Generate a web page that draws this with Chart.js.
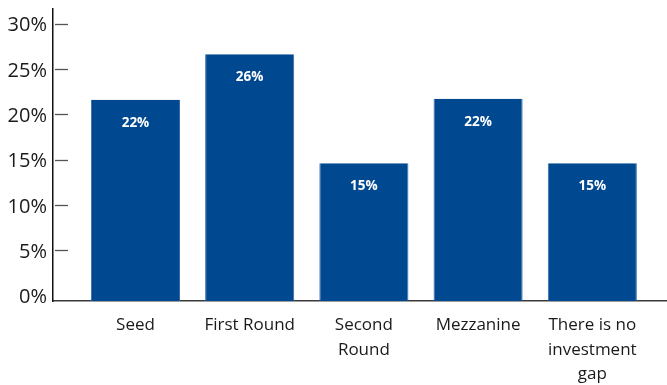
<!DOCTYPE html>
<html>
<head>
<meta charset="utf-8">
<script src="https://cdn.jsdelivr.net/npm/chart.js@4.4.1/dist/chart.umd.min.js"></script>
<style>
  html, body { margin: 0; padding: 0; background: #ffffff; }
  #wrap { width: 667px; height: 385px; position: relative; }
</style>
</head>
<body>
<div id="wrap"><canvas id="c"></canvas></div>
<script>
// ---- data ----
const categories = ["Seed", "First Round", ["Second", "Round"], "Mezzanine", ["There is no", "investment", "gap"]];
const shares = [21.6, 26.6, 14.6, 21.7, 14.6];
const shareLabels = ["22%", "26%", "15%", "22%", "15%"];
const yTicks = [0, 5, 10, 15, 20, 25, 30];

const Y_MIN = -0.6, Y_MAX = 31.6;
const X_MIN = -0.722, X_MAX = 4.654;

const points = shares.map((v, i) => ({ x: i, y: v }));

const barValueLabels = {
  id: 'barValueLabels',
  afterDatasetsDraw(chart) {
    const ctx = chart.ctx;
    const meta = chart.getDatasetMeta(0);
    ctx.save();
    ctx.fillStyle = '#ffffff';
    ctx.font = 'bold 13.5px "Open Sans", sans-serif';
    ctx.textAlign = 'center';
    ctx.textBaseline = 'middle';
    meta.data.forEach((bar, i) => {
      ctx.fillText(shareLabels[i], bar.x, bar.y + 23);
    });
    ctx.restore();
  }
};

const innerTicks = {
  id: 'innerTicks',
  afterDraw(chart) {
    const ctx = chart.ctx;
    const ys = chart.scales.y;
    const left = chart.chartArea.left;
    ctx.save();
    ctx.strokeStyle = '#555555';
    ctx.lineWidth = 1.3;
    yTicks.forEach(t => {
      if (t === 0) return;
      const py = Math.round(ys.getPixelForValue(t)) + 0.5;
      ctx.beginPath();
      ctx.moveTo(left + 2, py);
      ctx.lineTo(left + 15, py);
      ctx.stroke();
    });
    ctx.restore();
  }
};

function noPad(scale) {
  scale.paddingTop = 0; scale.paddingBottom = 0;
  scale.paddingLeft = 0; scale.paddingRight = 0;
}

new Chart(document.getElementById('c'), {
  type: 'bar',
  data: {
    datasets: [{
      data: points,
      backgroundColor: '#004990',
      borderColor: '#3569a8',
      borderWidth: { left: 1, right: 1, top: 0, bottom: 0 },
      base: Y_MIN,
      barPercentage: 0.78,
      categoryPercentage: 1.0
    }]
  },
  options: {
    responsive: true,
    maintainAspectRatio: false,
    animation: false,
    layout: { padding: { top: 9, right: 0, left: 0, bottom: 0 } },
    plugins: { legend: { display: false }, tooltip: { enabled: false } },
    scales: {
      x: {
        type: 'linear',
        offset: false,
        min: X_MIN,
        max: X_MAX,
        afterBuildTicks(scale) { scale.ticks = categories.map((c, i) => ({ value: i })); },
        afterFit(scale) { scale.height = 84; noPad(scale); },
        grid: { display: false, drawTicks: false, offset: false },
        border: { display: true, color: '#3a3a3a', width: 1.5 },
        ticks: {
          padding: 12,
          autoSkip: false,
          maxRotation: 0,
          color: '#1a1a1a',
          font: { family: '"Open Sans", sans-serif', size: 17, lineHeight: 1.45 },
          callback(v) { return categories[v]; }
        }
      },
      y: {
        min: Y_MIN,
        max: Y_MAX,
        afterBuildTicks(scale) { scale.ticks = yTicks.map(v => ({ value: v })); },
        afterFit(scale) { scale.width = 53; noPad(scale); },
        grid: { display: false, drawTicks: false },
        border: { display: true, color: '#111111', width: 1.5 },
        ticks: {
          padding: 6,
          labelOffset: 2,
          color: '#1a1a1a',
          font: { family: '"Open Sans", sans-serif', size: 20 },
          callback(v) { return v + '%'; }
        }
      }
    }
  },
  plugins: [barValueLabels, innerTicks]
});
</script>
</body>
</html>
